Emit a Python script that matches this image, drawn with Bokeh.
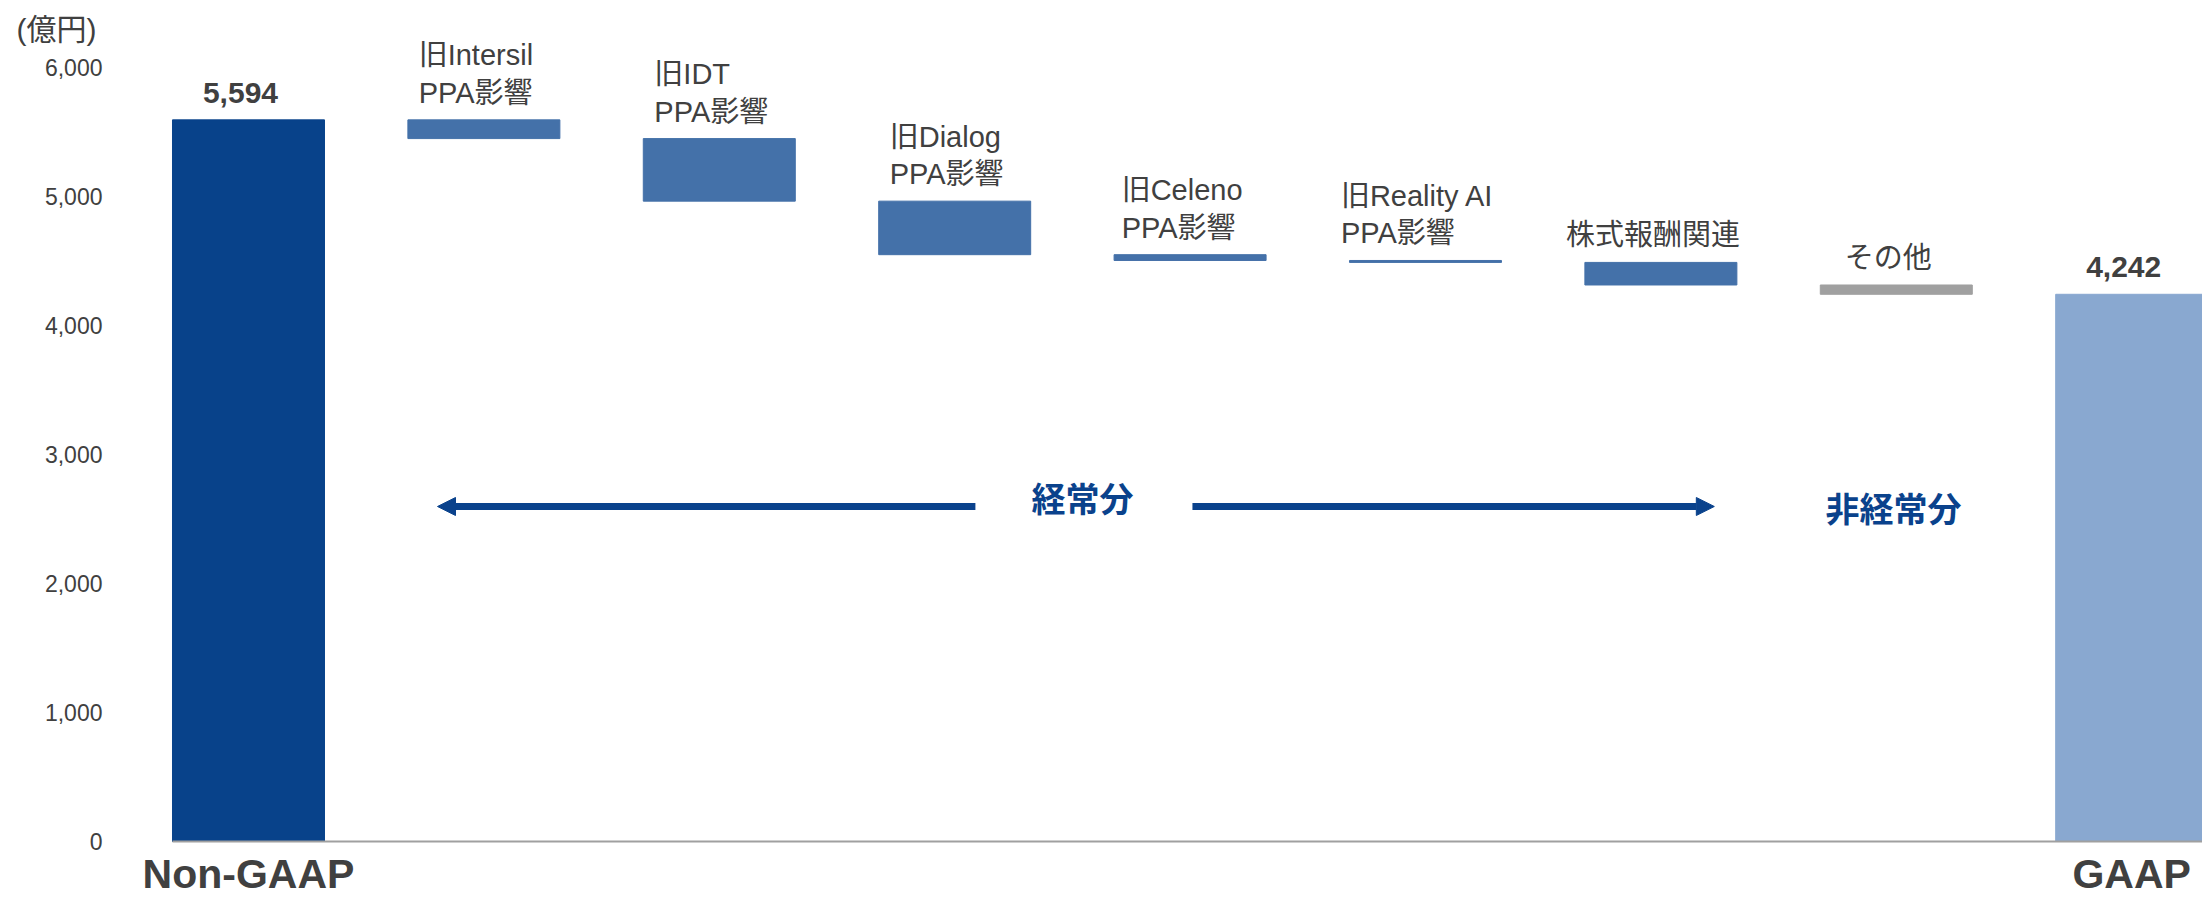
from bokeh.plotting import figure
from bokeh.models import (ColumnDataSource, LabelSet, Label, Arrow, NormalHead,
                          FixedTicker, NumeralTickFormatter, Range1d)
from bokeh.core.properties import value
from bokeh.embed import file_html
from bokeh.resources import INLINE

# ---- data ----
categories = ["Non-GAAP", "旧Intersil\nPPA影響", "旧IDT\nPPA影響", "旧Dialog\nPPA影響",
              "旧Celeno\nPPA影響", "旧Reality AI\nPPA影響", "株式報酬関連", "その他", "GAAP"]
start_value = 5594
adjustments = [-145, -485, -415, -45, -15, -175, -72]
end_value = 4242
y_ticks = [0, 1000, 2000, 3000, 4000, 5000, 6000]
unit_label = "(億円)"
group_labels = ["経常分", "非経常分"]

# ---- styles ----
bar_colors = ["#08428A"] + ["#4471A9"] * 6 + ["#A0A0A0"] + ["#89A8D0"]
TEXT = "#404040"
NAVY = "#0A428C"
LATIN_CJK = "Liberation Sans, Noto Sans CJK JP"

# waterfall geometry from data
idx = list(range(len(categories)))
bottoms, tops = [0], [start_value]
running = start_value
for a in adjustments:
    new = running + a
    bottoms.append(min(running, new))
    tops.append(max(running, new))
    running = new
bottoms.append(0)
tops.append(end_value)

# ---- layout (frame fills the canvas; axes drawn at fixed locations) ----
W, H = 2202, 897
PX_X = 235.4          # pixels per category
PX_Y = 0.129          # pixels per unit value
AXIS_X_PX, AXIS_Y_PX = 172, 841
left_edge = -0.3228
x0 = left_edge - AXIS_X_PX / PX_X
x1 = x0 + W / PX_X
y0 = -(H - AXIS_Y_PX) / PX_Y
y1 = AXIS_Y_PX / PX_Y

p = figure(width=W, height=H, output_backend="svg", toolbar_location=None,
           x_range=Range1d(x0, x1), y_range=Range1d(y0, y1),
           min_border=0, min_border_left=0, min_border_right=0,
           min_border_top=0, min_border_bottom=0)
p.outline_line_color = None
p.grid.visible = False
p.background_fill_color = "white"
p.border_fill_color = "white"

src = ColumnDataSource(dict(x=idx, bottom=bottoms, top=tops, color=bar_colors))
p.vbar(x="x", bottom="bottom", top="top", width=0.6457, color="color", source=src)

# x axis: baseline + end labels
p.xaxis.fixed_location = 0
p.xaxis.bounds = (left_edge, x1)
p.xaxis.ticker = FixedTicker(ticks=[idx[0], idx[-1]])
p.xaxis.major_label_overrides = {idx[0]: categories[0], idx[-1]: categories[-1]}
p.xaxis.axis_line_color = "#A0A0A0"
p.xaxis.axis_line_width = 2
p.xaxis.major_tick_line_color = None
p.xaxis.minor_tick_line_color = None
p.xaxis.major_tick_out = 0
p.xaxis.major_tick_in = 0
p.xaxis.major_label_standoff = 9
p.xaxis.major_label_text_font_size = "41px"
p.xaxis.major_label_text_font_style = "bold"
p.xaxis.major_label_text_font = "Liberation Sans"
p.xaxis.major_label_text_color = TEXT

# y axis
p.yaxis.fixed_location = left_edge
p.yaxis.ticker = FixedTicker(ticks=y_ticks)
p.yaxis.formatter = NumeralTickFormatter(format="0,0")
p.yaxis.axis_line_color = None
p.yaxis.major_tick_line_color = None
p.yaxis.minor_tick_line_color = None
p.yaxis.major_tick_out = 0
p.yaxis.major_tick_in = 0
p.yaxis.major_label_standoff = 70
p.yaxis.major_label_text_font_size = "23px"
p.yaxis.major_label_text_font = "Liberation Sans"
p.yaxis.major_label_text_color = TEXT

# category labels above floating bars
mid = slice(1, len(categories) - 1)
cat_src = ColumnDataSource(dict(x=idx[mid], y=tops[mid], text=categories[mid]))
p.add_layout(LabelSet(x="x", y="y", text="text", source=cat_src,
                      text_align="center", text_baseline="bottom",
                      x_offset=-8, y_offset=11, text_font_size="29px",
                      text_font=value(LATIN_CJK), text_color=TEXT,
                      text_line_height=1.17))

# value labels for totals
val_src = ColumnDataSource(dict(x=[idx[0], idx[-1]], y=[start_value, end_value],
                                text=[f"{start_value:,}", f"{end_value:,}"]))
p.add_layout(LabelSet(x="x", y="y", text="text", source=val_src,
                      text_align="center", text_baseline="alphabetic",
                      x_offset=-8, y_offset=17, text_font_size="30px",
                      text_font_style="bold", text_font=value("Liberation Sans"),
                      text_color=TEXT))

# unit label
p.add_layout(Label(x=x0 + 16 / PX_X, y=(AXIS_Y_PX - 29) / PX_Y, text=unit_label,
                   text_align="left", text_baseline="alphabetic",
                   text_font_size="30px", text_font=LATIN_CJK, text_color=TEXT))

# arrows and group labels
arrow_y = 2597
p.add_layout(Arrow(end=NormalHead(size=18, fill_color=NAVY, line_color=NAVY),
                   x_start=3.088, y_start=arrow_y, x_end=0.803, y_end=arrow_y,
                   line_color=NAVY, line_width=7))
p.add_layout(Arrow(end=NormalHead(size=18, fill_color=NAVY, line_color=NAVY),
                   x_start=4.010, y_start=arrow_y, x_end=6.227, y_end=arrow_y,
                   line_color=NAVY, line_width=7))
p.add_layout(Label(x=3.543, y=2663, text=group_labels[0], text_align="center",
                   text_baseline="middle", text_font_size="34px", text_font_style="bold",
                   text_font="Noto Sans CJK JP", text_color=NAVY))
p.add_layout(Label(x=6.988, y=2589, text=group_labels[1], text_align="center",
                   text_baseline="middle", text_font_size="34px", text_font_style="bold",
                   text_font="Noto Sans CJK JP", text_color=NAVY))

open("out.html", "w").write(file_html(p, INLINE))
